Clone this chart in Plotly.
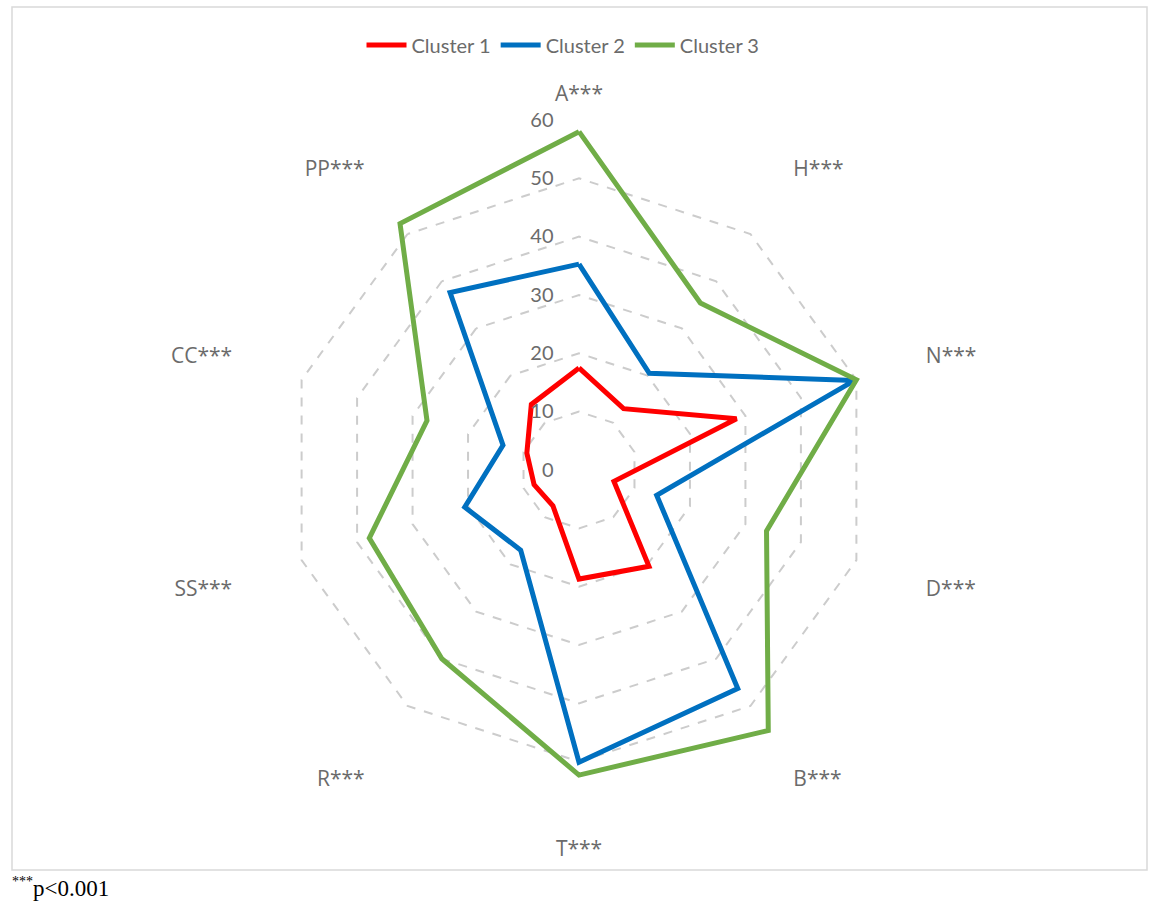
import plotly.graph_objects as go

categories = ["A***", "H***", "N***", "D***", "B***", "T***", "R***", "SS***", "CC***", "PP***"]
cluster1 = [17.5, 13.0, 28.4, 6.3, 20.4, 18.7, 7.6, 8.1, 9.4, 13.9]
cluster2 = [35.3, 20.5, 49.6, 14.0, 46.3, 50.1, 17.0, 20.6, 13.7, 37.6]
cluster3 = [58.0, 35.4, 50.0, 33.8, 55.2, 52.3, 40.0, 37.8, 27.4, 52.2]
series_names = ["Cluster 1", "Cluster 2", "Cluster 3"]
series_colors = ["#FF0000", "#0070C0", "#70AD47"]
radial_ticks = [0, 10, 20, 30, 40, 50, 60]

W, H = 1149, 903
cx, cy, R = 579, 470, 350

fig = go.Figure()
for name, vals, col in zip(series_names, [cluster1, cluster2, cluster3], series_colors):
    fig.add_trace(go.Scatterpolar(
        r=vals + vals[:1],
        theta=categories + categories[:1],
        mode="lines",
        name=name,
        line=dict(color=col, width=5),
    ))

font_main = "Lato, 'Open Sans', sans-serif"
font_cat = "'Open Sans', Lato, sans-serif"
fig.update_layout(
    width=W, height=H,
    margin=dict(l=0, r=0, t=0, b=0),
    paper_bgcolor="white",
    plot_bgcolor="white",
    font=dict(family=font_main, size=20, color="#6b6b6b"),
    showlegend=True,
    legend=dict(orientation="h", x=0.49, xanchor="center", y=1 - 45 / H, yanchor="middle",
                font=dict(size=20, color="#6b6b6b"), itemwidth=40, traceorder="normal",
                bgcolor="rgba(0,0,0,0)"),
    polar=dict(
        domain=dict(x=[(cx - R) / W, (cx + R) / W], y=[(H - cy - R) / H, (H - cy + R) / H]),
        bgcolor="white",
        gridshape="linear",
        angularaxis=dict(
            rotation=90, direction="clockwise",
            showline=False, showgrid=False,
            ticks="outside", ticklen=10, tickcolor="rgba(0,0,0,0)",
            tickfont=dict(size=21, color="#6b6b6b", family=font_cat),
        ),
        radialaxis=dict(
            range=[0, 60], tickvals=radial_ticks, ticktext=[str(v) for v in radial_ticks],
            angle=90, tickangle=90, side="counterclockwise",
            showline=False, showgrid=True, gridcolor="#cccccc", griddash="dash", gridwidth=1.5,
            ticks="outside", ticklen=18, tickcolor="rgba(0,0,0,0)",
            tickfont=dict(size=20, color="#6b6b6b", family=font_main),
        ),
    ),
    shapes=[dict(type="rect", xref="paper", yref="paper",
                 x0=12 / W, x1=1147 / W, y0=1 - 870 / H, y1=1 - 7 / H,
                 line=dict(color="#d9d9d9", width=1.5), fillcolor="rgba(0,0,0,0)", layer="below")],
    annotations=[dict(text="<sup><span style='font-size:14px'>***</span></sup>p<0.001",
                      xref="paper", yref="paper",
                      x=10 / W, y=1 - 887 / H, xanchor="left", yanchor="middle", showarrow=False,
                      font=dict(family="'Liberation Serif', 'Times New Roman', serif", size=23, color="black"))],
)

fig.write_html("out.html")
